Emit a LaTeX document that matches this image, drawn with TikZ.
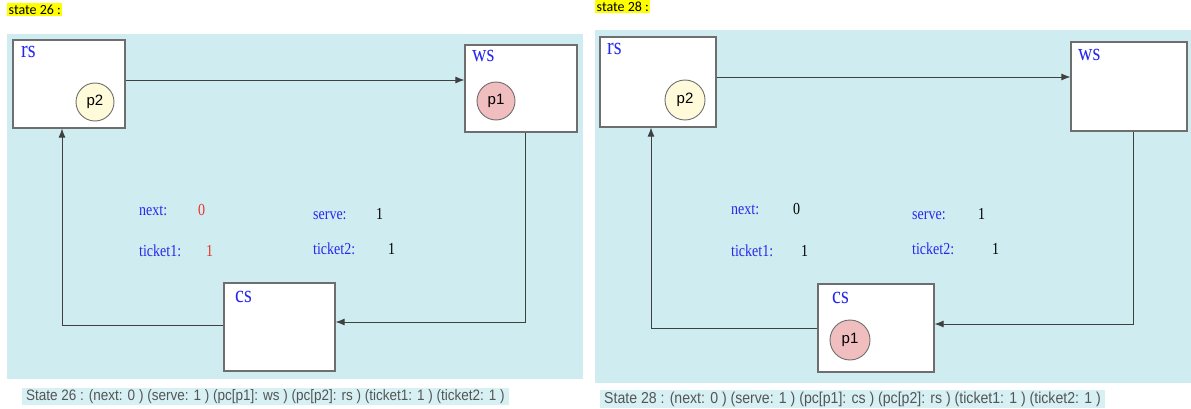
\documentclass[tikz,border=0pt]{standalone}
\usepackage{fontspec}
\setmainfont{Liberation Serif}
\newfontfamily\arialf{Liberation Sans}
\newfontfamily\calf{Carlito}
\usetikzlibrary{arrows.meta}
\definecolor{panelbg}{RGB}{207,236,240}
\definecolor{boxline}{RGB}{110,110,110}
\definecolor{lblblue}{RGB}{40,40,235}
\definecolor{valred}{RGB}{235,50,40}
\definecolor{pyellow}{RGB}{255,251,218}
\definecolor{ppink}{RGB}{240,190,190}
\definecolor{footgray}{RGB}{85,85,85}
\definecolor{footbg}{RGB}{214,240,244}
\definecolor{hlyellow}{RGB}{255,255,0}
\newcommand{\tallt}[1]{\scalebox{1}[1.2]{#1}}
\newcommand{\foott}[1]{\scalebox{1}[1.12]{#1}}
\tikzset{
  panel/.style={fill=panelbg, draw=none},
  statebox/.style={draw=boxline, line width=1.2pt, fill=white, inner sep=0pt},
  placelbl/.style={anchor=base west, inner sep=0pt, text=lblblue, font=\fontsize{20}{20}\selectfont},
  varlbl/.style={anchor=base west, inner sep=0pt, text=lblblue, font=\fontsize{14}{14}\selectfont},
  valblack/.style={anchor=base west, inner sep=0pt, text=black, font=\fontsize{14}{14}\selectfont},
  valredst/.style={anchor=base west, inner sep=0pt, text=valred, font=\fontsize{14}{14}\selectfont},
  token/.style={circle, draw=boxline, line width=0.9pt, inner sep=0pt, font=\arialf\fontsize{15}{15}\selectfont},
  arr/.style={draw=black!75, line width=0.9pt, -{Latex[length=9pt,width=7pt]}},
  footer/.style={anchor=base west, inner xsep=4pt, inner ysep=1.5pt, fill=footbg, text=footgray},
  heading/.style={anchor=north west, inner sep=1.5pt, fill=hlyellow, font=\calf\fontsize{14}{15}\selectfont}
}
\begin{document}
\begin{tikzpicture}[x=1pt,y=-1pt]
\useasboundingbox (0,0) rectangle (1191,409);
\fill[white] (0,0) rectangle (1191,409);
% ---------- left panel: state 26
\node[heading] (hA) at (7,3) {state 26 :};
\fill[panel] (7,34) rectangle (583,379);
\node[statebox, minimum width=112pt, minimum height=88pt] (rsA) at (69,84) {};
\node[statebox, minimum width=112pt, minimum height=87pt] (wsA) at (521,88.5) {};
\node[statebox, minimum width=111pt, minimum height=88pt] (csA) at (279.5,327) {};
\node[placelbl] (rsAl) at (21,58) {\tallt{rs}};
\node[placelbl] (wsAl) at (472,62) {\tallt{ws}};
\node[placelbl] (csAl) at (235,302) {\tallt{cs}};
\node[token, fill=pyellow, minimum size=38pt] (p2A) at (95,102) {p2};
\node[token, fill=ppink, minimum size=38pt] (p1A) at (496,101) {p1};
\draw[arr] ([yshift=4pt]rsA.east) -- ([yshift=4pt]rsA.east -| wsA.west);
\draw[arr] ([xshift=4pt]wsA.south) |- ([yshift=5pt]csA.east);
\draw[arr] ([yshift=2pt]csA.west) -| ([xshift=-7pt]rsA.south);
\node[varlbl] (nA) at (139,215) {\tallt{next:}};
\node[valredst] (nAv) at (198,215) {\tallt{0}};
\node[varlbl] (t1A) at (139,256) {\tallt{ticket1:}};
\node[valredst] (t1Av) at (206,256) {\tallt{1}};
\node[varlbl] (sA) at (313,219) {\tallt{serve:}};
\node[valblack] (sAv) at (376,219) {\tallt{1}};
\node[varlbl] (t2A) at (313,254) {\tallt{ticket2:}};
\node[valblack] (t2Av) at (388,254) {\tallt{1}};
\node[footer, font=\arialf\fontsize{13.5}{14}\selectfont] (fA) at (22,400) {\foott{State 26 : (next: 0 ) (serve: 1 ) (pc[p1]: ws ) (pc[p2]: rs ) (ticket1: 1 ) (ticket2: 1 )}};
% ---------- right panel: state 28
\node[heading] (hB) at (595,0) {state 28 :};
\fill[panel] (595,30) rectangle (1191,383);
\node[statebox, minimum width=116pt, minimum height=90pt] (rsB) at (658,82) {};
\node[statebox, minimum width=116pt, minimum height=89pt] (wsB) at (1129,86.5) {};
\node[statebox, minimum width=116pt, minimum height=88pt] (csB) at (876,328) {};
\node[placelbl] (rsBl) at (607,55) {\tallt{rs}};
\node[placelbl] (wsBl) at (1078,61) {\tallt{ws}};
\node[placelbl] (csBl) at (832,303) {\tallt{cs}};
\node[token, fill=pyellow, minimum size=40pt] (p2B) at (685,100) {p2};
\node[token, fill=ppink, minimum size=40pt] (p1B) at (850,340) {p1};
\draw[arr] ([yshift=5pt]rsB.east) -- ([yshift=5pt]rsB.east -| wsB.west);
\draw[arr] ([xshift=4pt]wsB.south) |- ([yshift=4pt]csB.east);
\draw[arr] (csB.west) -| ([xshift=-7pt]rsB.south);
\node[varlbl] (nB) at (731,214) {\tallt{next:}};
\node[valblack] (nBv) at (793,214) {\tallt{0}};
\node[varlbl] (t1B) at (731,256) {\tallt{ticket1:}};
\node[valblack] (t1Bv) at (801,256) {\tallt{1}};
\node[varlbl] (sB) at (912,219) {\tallt{serve:}};
\node[valblack] (sBv) at (978,219) {\tallt{1}};
\node[varlbl] (t2B) at (912,254) {\tallt{ticket2:}};
\node[valblack] (t2Bv) at (992,254) {\tallt{1}};
\node[footer, font=\arialf\fontsize{14.1}{15}\selectfont] (fB) at (600,403) {\foott{State 28 : (next: 0 ) (serve: 1 ) (pc[p1]: cs ) (pc[p2]: rs ) (ticket1: 1 ) (ticket2: 1 )}};
\end{tikzpicture}
\end{document}
